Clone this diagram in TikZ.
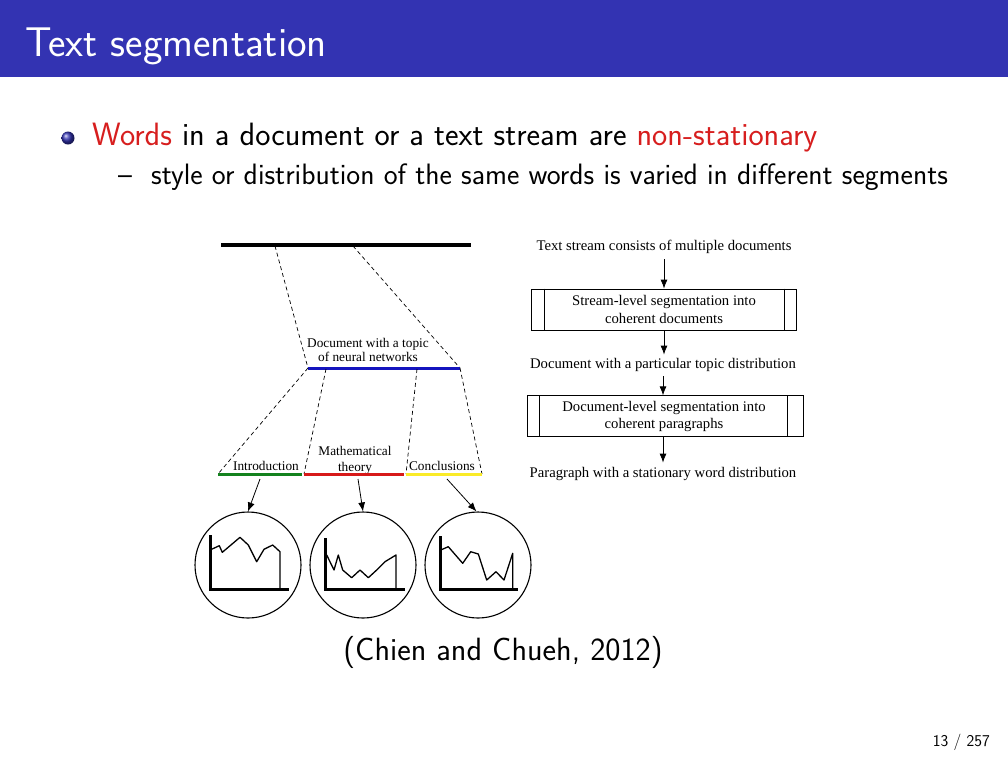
\documentclass[tikz,border=0pt]{standalone}
\usepackage{fontspec}
\newfontfamily\tnr{Liberation Serif}
\usetikzlibrary{arrows.meta}
\definecolor{bblue}{RGB}{51,51,178}
\definecolor{alertred}{RGB}{215,30,30}
\definecolor{segblue}{RGB}{20,20,190}
\definecolor{seggreen}{RGB}{20,130,30}
\definecolor{segred}{RGB}{215,25,25}
\definecolor{segyellow}{RGB}{250,235,40}
\tikzset{
  dia/.style={font=\tnr\fontsize{13.3}{15}\selectfont, inner sep=0pt, anchor=base},
  diar/.style={font=\tnr\fontsize{14.7}{17}\selectfont, inner sep=0pt, anchor=base},
  seg/.style={line width=3pt},
  dline/.style={dashed, dash pattern=on 4pt off 3pt, line width=0.7pt},
  arr/.style={-{Latex[length=9pt,width=7pt]}, line width=0.8pt},
  pbox/.style={draw, line width=0.8pt, inner sep=0pt},
  plot/.style={line width=1.3pt, line join=round},
  axis/.style={line width=3pt},
  circ/.style={draw, circle, line width=1.1pt, minimum size=106pt, inner sep=0pt}
}
\begin{document}
\begin{tikzpicture}[x=1pt,y=-1pt]
\useasboundingbox (0,0) rectangle (1008,756);
\fill[white] (0,0) rectangle (1008,756);
% title bar
\fill[bblue] (0,0) rectangle (1008,77);
\node[anchor=base west, inner sep=0pt, text=white, font=\sffamily\fontsize{41.5}{46}\selectfont] (title) at (25,56) {Text segmentation};
% bullets
\shade[ball color=bblue] (68,138) circle (6.5);
\node[anchor=base west, inner sep=0pt, font=\sffamily\fontsize{32.3}{38}\selectfont] (b1) at (92,145) {\textcolor{alertred}{Words} in a document or a text stream are \textcolor{alertred}{non-stationary}};
\node[anchor=base west, inner sep=0pt, font=\sffamily\fontsize{29.5}{34}\selectfont] (b2dash) at (118,184) {--};
\node[anchor=base west, inner sep=0pt, font=\sffamily\fontsize{29.5}{34}\selectfont] (b2) at (151,184) {style or distribution of the same words is varied in different segments};
% citation and page
\node[anchor=base, inner sep=0pt, font=\sffamily\fontsize{32.2}{38}\selectfont] (cite) at (503,660) {(Chien and Chueh, 2012)};
\node[anchor=base east, inner sep=0pt, font=\sffamily\fontsize{16.5}{19}\selectfont] (page) at (990,746) {13 / 257};

% ---------- left diagram ----------
\coordinate (t1) at (221,245); \coordinate (t2) at (471,245);
\draw[line width=3.2pt] (t1) -- (t2);
\coordinate (ta) at (275,246); \coordinate (tb) at (353,246);
\coordinate (d1) at (308,368); \coordinate (d2) at (460,368);
\coordinate (da) at (326,369); \coordinate (db) at (417,369);
\draw[dline] (ta) -- (d1);
\draw[dline] (tb) -- (d2);
\draw[seg, segblue] (d1) -- (d2);
\node[dia] (doclbl1) at (368,347) {Document with a topic};
\node[dia] (doclbl2) at (368,361) {of neural networks};

\coordinate (g1) at (218,474); \coordinate (g2) at (302,474);
\coordinate (r1) at (304,474); \coordinate (r2) at (404,474);
\coordinate (y1) at (406,474); \coordinate (y2) at (482,474);
\draw[dline] (d1) -- (g1);
\draw[dline] (da) -- (r1);
\draw[dline] (db) -- (y1);
\draw[dline] (d2) -- (y2);
\node[dia] (intro) at (266,470.5) {Introduction};
\node[dia] (math1) at (355,455) {Mathematical};
\node[dia] (math2) at (355,471) {theory};
\node[dia] (concl) at (442,470.5) {Conclusions};
\draw[seg, seggreen] (g1) -- (g2);
\draw[seg, segred] (r1) -- (r2);
\draw[seg, segyellow] (y1) -- (y2);

% circles
\node[circ] (c1) at (248,565) {};
\node[circ] (c2) at (363,565) {};
\node[circ] (c3) at (478,565) {};
\coordinate (a1) at (260,479); \coordinate (a2) at (358,479); \coordinate (a3) at (447,479);
\draw[arr] (a1) -- (c1.north);
\draw[arr] (a2) -- (c2.north);
\draw[arr] (a3) -- ([xshift=-1.5pt]c3.north);

% charts
\draw[axis] (210,535) -- (210,589) -- (289,589);
\draw[plot] (210,550) -- (219.3,545.7) -- (222.3,552.3) -- (240,537.3) -- (248.3,545) -- (256.7,561.7) -- (264,549.3) -- (272.7,545) -- (280,551.7) -- (280,588.3);
\draw[axis] (325,538) -- (325,589) -- (405,589);
\draw[plot] (326.7,555) -- (334,570) -- (338.3,555) -- (342.7,570) -- (351.7,577.7) -- (360,570) -- (368.3,577.7) -- (376.7,570) -- (385,561.7) -- (396,555) -- (396,588.3);
\draw[axis] (440.7,536) -- (440.7,589) -- (518,589);
\draw[plot] (440.7,550) -- (448.3,546.7) -- (462.7,563.3) -- (470.7,551.7) -- (478.3,554) -- (486.7,580) -- (496,571.7) -- (504,580) -- (512.7,553.3) -- (512.7,588.3);

% ---------- right flow ----------
\node[diar] (s0) at (664,250) {Text stream consists of multiple documents};
\node[pbox, minimum width=265pt, minimum height=41pt] (p1) at (664,309.5) {};
\draw[line width=0.8pt] ([xshift=13.5pt]p1.north west) -- ([xshift=13.5pt]p1.south west);
\draw[line width=0.8pt] ([xshift=-12.5pt]p1.north east) -- ([xshift=-12.5pt]p1.south east);
\node[diar] (p1t1) at (664,305) {Stream-level segmentation into};
\node[diar] (p1t2) at (664,323) {coherent documents};
\node[diar] (s1) at (663,368) {Document with a particular topic distribution};
\node[pbox, minimum width=276pt, minimum height=40.5pt] (p2) at (665,416) {};
\draw[line width=0.8pt] ([xshift=12.5pt]p2.north west) -- ([xshift=12.5pt]p2.south west);
\draw[line width=0.8pt] ([xshift=-16pt]p2.north east) -- ([xshift=-16pt]p2.south east);
\node[diar] (p2t1) at (664,411) {Document-level segmentation into};
\node[diar] (p2t2) at (664,428.7) {coherent paragraphs};
\node[diar] (s2) at (663,477) {Paragraph with a stationary word distribution};
\draw[arr, shorten <=6pt] (s0.south -| p1) -- (p1.north);
\draw[arr, shorten >=3pt] (p1.south) -- (s1.north -| p1);
\draw[arr, shorten <=5pt] (s1.south) -- (p2.north -| s1);
\draw[arr, shorten >=4pt] (p2.south -| s1) -- (s2.north);
\end{tikzpicture}
\end{document}
